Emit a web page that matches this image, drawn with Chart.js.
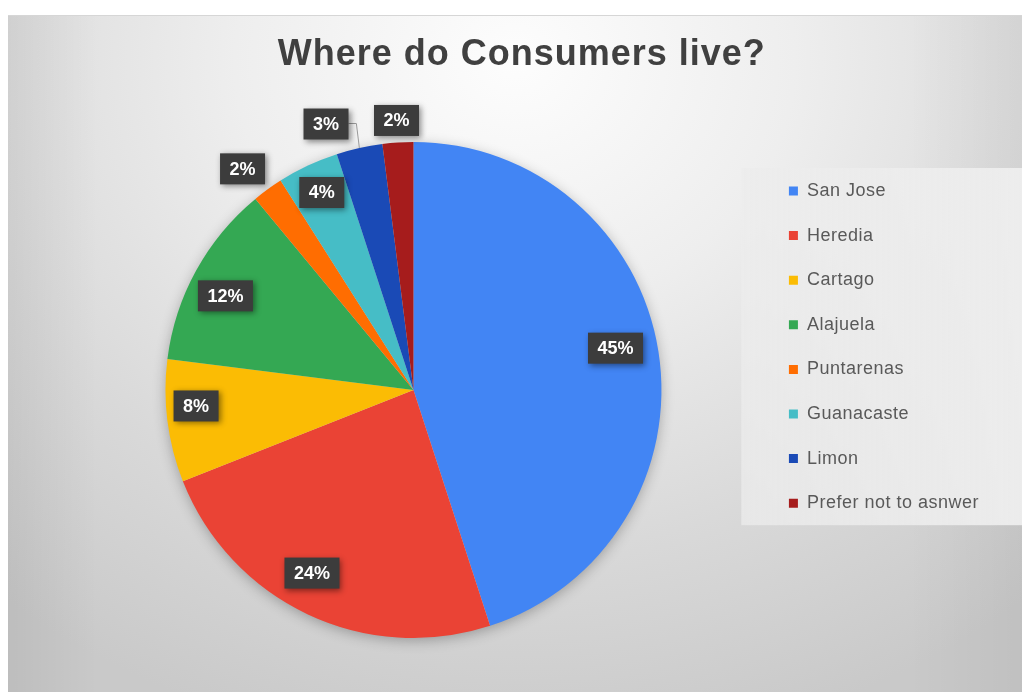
<!DOCTYPE html>
<html>
<head>
<meta charset="utf-8">
<title>Where do Consumers live?</title>
<script src="https://cdn.jsdelivr.net/npm/chart.js@4.4.1/dist/chart.umd.min.js"></script>
<style>
  html, body { margin: 0; padding: 0; background: #ffffff; width: 1022px; height: 692px; overflow: hidden; }
  #frame {
    position: absolute; left: 8px; top: 15px; width: 1014px; height: 677px;
    background:
      linear-gradient(to right, rgba(0,0,0,0.06) 0px, rgba(0,0,0,0) 90px, rgba(0,0,0,0) 900px, rgba(0,0,0,0.045) 1014px),
      radial-gradient(ellipse 800px 700px at 507px 45px, #fdfdfd 0%, #eeeeee 35%, #d9d9d9 70%, #c9c9c9 100%);
  }
  #frame::before { content: ''; position: absolute; left: 0; top: 0; right: 0; height: 1px; background: #d6d6d6; }
  #wrap { position: absolute; left: 0; top: 0; width: 1014px; height: 677px; }
</style>
</head>
<body>
<div id="frame"><div id="wrap"><canvas id="chart"></canvas></div></div>
<script>
// Survey answers: province of residence (share of respondents, %)
const regions = ['San Jose', 'Heredia', 'Cartago', 'Alajuela', 'Puntarenas', 'Guanacaste', 'Limon', 'Prefer not to asnwer'];
const shares = [45, 24, 8, 12, 2, 4, 3, 2];
const sliceColors = ['#4285F4', '#EA4335', '#FBBC04', '#34A853', '#FF6D01', '#46BDC6', '#1A4AB6', '#A61C1C'];

const FONT = '"Liberation Sans", Arial, Helvetica, sans-serif';

// where each percentage tag sits: fraction of the radius and a nudge (degrees) from the slice's mid angle
const tagPlacement = [
  { r: 0.832, nudge: -2.7 },
  { r: 0.844, nudge: 3.8 },
  { r: 0.879, nudge: 3.0 },
  { r: 0.848, nudge: -2.2 },
  { r: 1.127, nudge: -1.7 },
  { r: 0.878, nudge: 0.3 },
  { r: 1.129, nudge: -5.6, leader: true },
  { r: 1.089, nudge: 0 }
];

// a little tracking on the title and legend text
const textTracking = {
  id: 'textTracking',
  afterLayout(chart) {
    [[chart.titleBlock, '1px'], [chart.legend, '0.5px']].forEach(([box, spacing]) => {
      if (!box || box._tracked) return;
      const draw = box.draw;
      box.draw = function (...args) {
        const ctx = this.ctx;
        const prev = ctx.letterSpacing;
        ctx.letterSpacing = spacing;
        try { draw.apply(this, args); } finally { ctx.letterSpacing = prev; }
      };
      box._tracked = true;
    });
  }
};

// soft drop shadow under the whole pie
const pieShadow = {
  id: 'pieShadow',
  beforeDatasetsDraw(chart) {
    const arc = chart.getDatasetMeta(0).data[0];
    if (!arc) return;
    const ctx = chart.ctx;
    ctx.save();
    ctx.shadowColor = 'rgba(0,0,0,0.30)';
    ctx.shadowBlur = 14;
    ctx.shadowOffsetY = 3;
    ctx.fillStyle = '#cfcfcf';
    ctx.beginPath();
    ctx.arc(arc.x, arc.y, arc.outerRadius - 1, 0, Math.PI * 2);
    ctx.fill();
    ctx.restore();
  }
};

// lighter panel behind the legend entries
const legendPanel = {
  id: 'legendPanel',
  beforeDraw(chart) {
    const lg = chart.legend;
    if (!lg || !lg.legendHitBoxes || !lg.legendHitBoxes.length) return;
    const boxes = lg.legendHitBoxes;
    const first = boxes[0], last = boxes[boxes.length - 1];
    const top = first.top - 14;
    const bottom = last.top + last.height + 13;
    const left = lg.left - 21;
    const ctx = chart.ctx;
    ctx.save();
    const g = ctx.createLinearGradient(left, 0, chart.width, 0);
    g.addColorStop(0, 'rgba(236,236,236,0.75)');
    g.addColorStop(1, 'rgba(238,238,238,0.95)');
    ctx.fillStyle = g;
    ctx.fillRect(left, top, chart.width - left, bottom - top);
    ctx.restore();
  }
};

// dark percentage tags on / beside each slice
const percentTags = {
  id: 'percentTags',
  afterDatasetsDraw(chart) {
    const meta = chart.getDatasetMeta(0);
    const values = chart.data.datasets[0].data;
    const total = values.reduce((a, b) => a + b, 0);
    const ctx = chart.ctx;
    ctx.save();
    ctx.font = 'bold 18px ' + FONT;
    ctx.textAlign = 'center';
    ctx.textBaseline = 'middle';
    meta.data.forEach((arc, i) => {
      const p = tagPlacement[i];
      const { x, y, startAngle, endAngle, outerRadius } =
        arc.getProps(['x', 'y', 'startAngle', 'endAngle', 'outerRadius'], true);
      const midAngle = (startAngle + endAngle) / 2;
      const a = midAngle + p.nudge * Math.PI / 180;
      const cx = x + Math.cos(a) * outerRadius * p.r;
      const cy = y + Math.sin(a) * outerRadius * p.r;
      const text = Math.round(values[i] / total * 100) + '%';
      const w = ctx.measureText(text).width + 19;
      const h = 31;

      if (p.leader) {
        const ex = x + Math.cos(midAngle) * outerRadius;
        const ey = y + Math.sin(midAngle) * outerRadius;
        ctx.save();
        ctx.strokeStyle = '#9a9a9a';
        ctx.lineWidth = 1;
        ctx.beginPath();
        ctx.moveTo(cx + w / 2, Math.round(cy - 1) + 0.5);
        ctx.lineTo(ex - 3, Math.round(cy - 1) + 0.5);
        ctx.lineTo(ex, ey);
        ctx.stroke();
        ctx.restore();
      }

      ctx.save();
      ctx.shadowColor = 'rgba(0,0,0,0.45)';
      ctx.shadowBlur = 6;
      ctx.shadowOffsetX = 2;
      ctx.shadowOffsetY = 2;
      ctx.fillStyle = '#3c3c3c';
      ctx.fillRect(cx - w / 2, cy - h / 2, w, h);
      ctx.restore();

      ctx.fillStyle = '#ffffff';
      ctx.fillText(text, cx, cy + 1);
    });
    ctx.restore();
  }
};

const chart = new Chart(document.getElementById('chart'), {
  type: 'pie',
  data: {
    labels: regions,
    datasets: [{
      data: shares,
      backgroundColor: sliceColors,
      borderWidth: 0,
      hoverOffset: 0
    }]
  },
  options: {
    responsive: true,
    maintainAspectRatio: false,
    animation: false,
    layout: { padding: { top: 10, left: 56.6, right: 43, bottom: 54 } },
    plugins: {
      title: {
        display: true,
        text: 'Where do Consumers live?',
        color: '#404040',
        font: { family: FONT, size: 36, weight: 'bold', lineHeight: 1.2 },
        padding: { top: 8.4, bottom: 65.4 }
      },
      legend: {
        position: 'right',
        align: 'center',
        title: { display: true, text: '', padding: 0, font: { size: 26, lineHeight: 1.2 } },
        labels: {
          boxWidth: 9,
          boxHeight: 9,
          padding: 26.6,
          color: '#595959',
          font: { family: FONT, size: 18 }
        }
      },
      tooltip: { enabled: false }
    }
  },
  plugins: [textTracking, legendPanel, pieShadow, percentTags]
});
</script>
</body>
</html>
